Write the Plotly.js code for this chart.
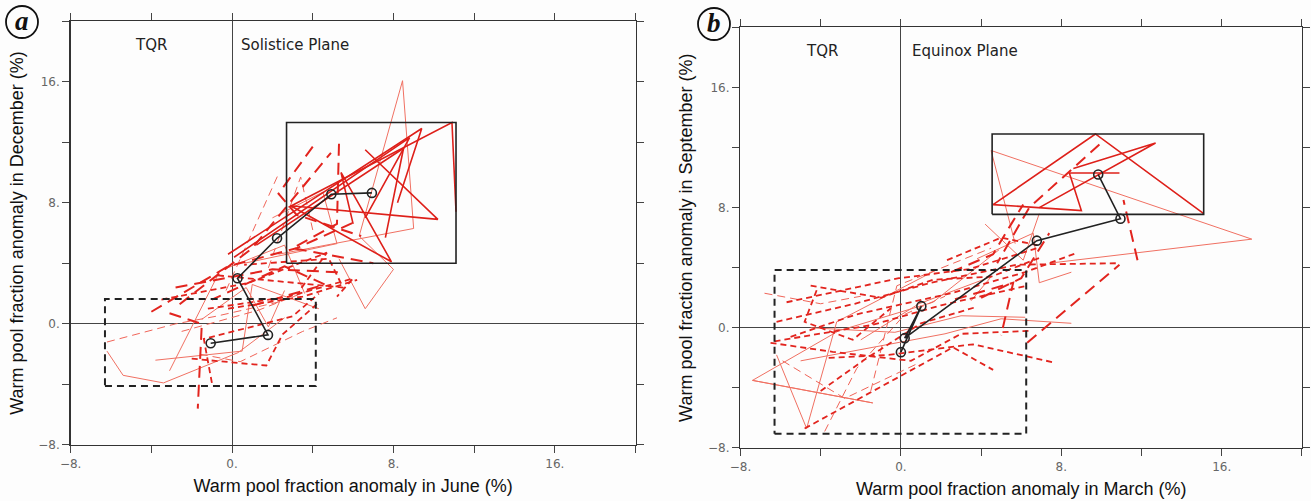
<!DOCTYPE html>
<html><head><meta charset="utf-8">
<script src="https://cdn.plot.ly/plotly-3.0.1.min.js"></script>
<style>html,body{margin:0;padding:0;background:#fdfdfd;}#chart{width:1311px;height:501px;}</style>
</head><body><div id="chart"></div>
<script>
// ---------- Data ----------
const tickVals = [-8, -4, 0, 4, 8, 12, 16, 20];
const tickText = ["\u22128.", "", "0.", "", "8.", "", "16.", ""];

// Panel a: ensemble-mean trajectory (June, December)
const aMeanX = [-1.06, 1.78, 0.27, 2.23, 4.92, 6.93];
const aMeanY = [-1.28, -0.73, 3.01, 5.65, 8.56, 8.65];
// Panel b: ensemble-mean trajectory (March, September)
const bMeanX = [0.0, 1.02, 0.19, 6.78, 10.95, 9.84];
const bMeanY = [-1.62, 1.44, -0.69, 5.80, 7.26, 10.20];

// boxes [x0, x1, y0, y1]
const aBoxSolid = [2.7, 11.1, 4.0, 13.3];
const aBoxDash = [-6.3, 4.15, -4.1, 1.65];
const bBoxSolid = [4.55, 15.1, 7.55, 12.9];
const bBoxDash = [-6.3, 6.25, -7.05, 3.85];

// Panel a members: strong solid red
const aS1 = [[2.8,7.7],[10.9,13.3],[11.1,7.4]];
const aS2 = [[0.1,4.4],[8.8,12.3],[6.6,7.0]];
const aS3 = [[6.6,11.5],[10.2,6.9],[2.9,7.8],[7.9,4.1],[5.4,10.0],[6.0,6.6]];
const aS4 = [[1.2,5.2],[8.5,11.6],[7.6,5.7]];
const aS5 = [[-0.2,4.6],[4.4,8.6],[9.4,12.9],[8.2,8.0]];
// thin solid salmon
const aT1 = [[2.3,4.6],[9.0,6.3],[8.45,16.06],[6.3,5.8],[8.0,3.6],[6.6,1.0],[5.3,4.3]];
const aT2 = [[-3.1,-3.1],[-0.6,3.5],[2.6,5.2],[3.6,2.0]];
const aT3 = [[-6.2,-1.8],[-5.4,-3.4],[-3.4,-3.9],[0.3,-1.9],[2.6,0.4]];
const aT4 = [[-3.8,-2.4],[0.5,-1.8],[1.0,2.6],[4.3,1.0]];
const aT5 = [[0.6,4.0],[5.2,5.3],[4.5,8.7],[2.0,7.0]];
const aT6 = [[-1.5,0.3],[0.7,2.4],[1.8,-0.2],[2.6,2.2]];
// long dash red
const aL1 = [[-2.6,1.3],[1.0,5.0],[4.9,11.3]];
const aL2 = [[5.3,11.9],[5.2,6.6],[3.0,5.0],[7.0,4.0]];
const aL3 = [[-3.1,0.7],[-1.5,0.0],[-1.7,-5.6]];
const aL4 = [[-2.8,2.4],[2.0,3.6],[5.5,3.4]];
const aL5 = [[1.0,1.2],[4.6,2.6],[2.6,3.8],[-1.0,1.6]];
const aL6 = [[-4.0,0.8],[-0.2,3.8],[3.2,5.0],[6.2,6.8]];
const aL7 = [[4.0,11.7],[2.3,8.6],[3.2,7.2],[6.4,5.8]];
// short dash red
const aD1 = [[-2.0,-2.3],[1.7,-2.75],[2.5,-0.7],[4.2,1.3]];
const aD2 = [[-0.7,3.2],[5.5,2.4],[4.8,4.3],[0.6,3.9]];
const aD3 = [[-1.0,-3.9],[-1.4,-1.0],[3.0,0.5],[4.3,2.0]];
const aD4 = [[-0.2,1.0],[3.5,1.8],[6.2,2.9]];
const aD5 = [[-3.5,1.6],[0.8,2.7],[4.7,4.7],[3.4,2.3]];
const aD6 = [[-1.2,1.0],[2.8,1.8],[6.0,3.0],[5.2,1.8]];
// thin dashed salmon
const aE1 = [[-6.2,-1.2],[-2.8,0.0],[-0.8,0.5],[2.5,1.5]];
const aE2 = [[-0.3,2.2],[2.3,9.9]];
const aE3 = [[-1.6,-2.0],[0.4,-2.5],[3.5,-0.5],[5.2,0.4]];
const aE4 = [[1.8,3.7],[3.4,9.7],[4.0,6.2]];
const aE5 = [[-2.5,-0.5],[1.3,0.9],[4.2,2.4]];

// Panel b members
const bS1 = [[4.6,8.2],[9.7,12.9],[15.1,7.6]];
const bS2 = [[4.6,8.2],[9.0,7.8],[8.4,10.3],[10.9,10.3]];
const bS3 = [[6.9,8.0],[12.7,12.3],[8.6,10.6]];
const bT1 = [[5.7,5.6],[4.5,11.8],[17.5,5.9],[7.4,4.3]];
const bT2 = [[-7.4,-3.5],[-1.4,-5.0]];
const bT3 = [[-1.4,-5.0],[-7.4,-3.5],[-3.1,-0.2],[1.6,1.7],[4.9,5.2]];
const bT4 = [[-6.2,-1.8],[-4.7,-6.7],[-3.2,0.4],[1.7,3.8]];
const bT5 = [[4.2,6.9],[6.1,4.5],[6.9,7.6]];
const bT6 = [[-5.0,-2.2],[2.2,-0.4],[5.0,0.6],[8.5,0.3]];
const bT7 = [[-4.5,0.0],[-0.3,-0.3],[3.0,0.8],[6.2,0.7]];
const bT8 = [[-2.0,-0.8],[0.9,1.6],[4.5,3.4],[3.5,1.8]];
const bT9 = [[3.8,4.6],[6.6,6.3],[6.9,3.0],[8.5,3.7]];
const bL1 = [[6.3,-1.0],[10.9,4.2]];
const bL2 = [[11.8,4.5],[11.1,8.5]];
const bL3 = [[9.9,12.2],[6.4,8.0],[4.8,4.3]];
const bL4 = [[4.0,2.0],[6.0,3.3],[7.4,6.3]];
const bL5 = [[2.7,1.9],[5.6,3.0],[5.0,-0.5]];
const bL6 = [[2.5,3.7],[4.6,4.9],[5.5,6.9],[6.1,8.2]];
const bD1 = [[-5.7,1.7],[-0.1,3.3],[3.4,3.9],[6.8,5.3]];
const bD2 = [[-6.3,-0.9],[-1.4,0.2],[2.0,1.5],[6.3,2.8]];
const bD3 = [[-4.8,-6.7],[-0.1,-3.3],[2.6,-1.3],[4.6,-2.8]];
const bD4 = [[-6.2,0.4],[-2.3,1.6],[1.5,3.0],[5.8,4.2],[10.9,4.3]];
const bD5 = [[-3.6,-2.0],[-0.6,-1.8],[3.6,-1.1],[7.6,-2.3]];
const bD6 = [[-4.0,-4.2],[-1.9,-2.2],[1.0,0.3],[3.8,1.4]];
const bD7 = [[2.3,4.5],[5.0,6.0],[6.8,5.5]];
const bD8 = [[-4.5,2.8],[-1.0,2.0],[1.6,3.2],[4.5,3.4],[7.0,4.7]];
const bD9 = [[-6.5,-1.0],[-3.4,-1.6],[0.5,-2.2],[3.0,-0.4],[6.5,-0.2]];
const bD10 = [[-5.5,-0.6],[-2.2,0.9],[2.5,2.3],[6.2,3.7],[8.8,5.0]];
const bD11 = [[-4.2,2.5],[-4.8,0.4],[-2.4,-0.8],[-0.5,1.3]];
const bE1 = [[-6.8,2.3],[-4.0,1.6],[-2.0,2.1]];
const bE2 = [[-5.9,-2.2],[-2.8,-4.7],[0.8,-2.4]];
const bE3 = [[-1.5,-4.2],[-0.2,2.8],[4.5,5.3]];
const bE4 = [[-3.8,-6.9],[-2.2,-2.7],[0.2,0.9],[2.2,2.1]];

// ---------- Styles ----------
const STY = {
  S: {color: 'rgb(222,32,26)', width: 1.6, dash: 'solid'},
  T: {color: 'rgb(240,112,98)', width: 1.0, dash: 'solid'},
  L: {color: 'rgb(226,36,30)', width: 2.0, dash: '12px,7px'},
  D: {color: 'rgb(226,36,30)', width: 1.8, dash: '6px,4px'},
  E: {color: 'rgb(240,100,88)', width: 1.0, dash: '8px,5px'}
};

function member(pts, sty, ax) {
  return {type: 'scatter', mode: 'lines', x: pts.map(p => p[0]), y: pts.map(p => p[1]),
    xaxis: ax[0], yaxis: ax[1], line: Object.assign({}, STY[sty]), hoverinfo: 'skip', showlegend: false};
}
function box(b, dashed, ax) {
  return {type: 'scatter', mode: 'lines', x: [b[0], b[1], b[1], b[0], b[0]], y: [b[2], b[2], b[3], b[3], b[2]],
    xaxis: ax[0], yaxis: ax[1], line: {color: '#222', width: dashed ? 2 : 1.6, dash: dashed ? '7px,5px' : 'solid'},
    hoverinfo: 'skip', showlegend: false};
}
function mean(xs, ys, ax) {
  return {type: 'scatter', mode: 'lines+markers', x: xs, y: ys, xaxis: ax[0], yaxis: ax[1],
    line: {color: '#222', width: 1.6}, marker: {symbol: 'circle-open', size: 9, color: '#222', line: {width: 1.6, color: '#222'}},
    hoverinfo: 'skip', showlegend: false};
}

const A = ['x', 'y'], B = ['x2', 'y2'];
const aMembers = [[aT1,'T'],[aT2,'T'],[aT3,'T'],[aT4,'T'],[aT5,'T'],[aT6,'T'],[aE1,'E'],[aE2,'E'],[aE3,'E'],[aE4,'E'],[aE5,'E'],
  [aD1,'D'],[aD2,'D'],[aD3,'D'],[aD4,'D'],[aD5,'D'],[aD6,'D'],[aL1,'L'],[aL2,'L'],[aL3,'L'],[aL4,'L'],[aL5,'L'],[aL6,'L'],[aL7,'L'],
  [aS1,'S'],[aS2,'S'],[aS3,'S'],[aS4,'S'],[aS5,'S']];
const bMembers = [[bT1,'T'],[bT2,'T'],[bT3,'T'],[bT4,'T'],[bT5,'T'],[bT6,'T'],[bT7,'T'],[bT8,'T'],[bT9,'T'],
  [bE1,'E'],[bE2,'E'],[bE3,'E'],[bE4,'E'],
  [bD1,'D'],[bD2,'D'],[bD3,'D'],[bD4,'D'],[bD5,'D'],[bD6,'D'],[bD7,'D'],[bD8,'D'],[bD9,'D'],[bD10,'D'],[bD11,'D'],
  [bL1,'L'],[bL2,'L'],[bL3,'L'],[bL4,'L'],[bL5,'L'],[bL6,'L'],
  [bS1,'S'],[bS2,'S'],[bS3,'S']];

const traces = [];
aMembers.forEach(m => traces.push(member(m[0], m[1], A)));
bMembers.forEach(m => traces.push(member(m[0], m[1], B)));
traces.push(box(aBoxSolid, false, A), box(aBoxDash, true, A), box(bBoxSolid, false, B), box(bBoxDash, true, B));
traces.push(mean(aMeanX, aMeanY, A), mean(bMeanX, bMeanY, B));

function axis(extra) {
  return Object.assign({
    range: [-8, 20], tickmode: 'array', tickvals: tickVals, ticktext: tickText,
    ticks: 'outside', ticklen: 7, tickwidth: 1, tickcolor: '#444',
    showline: true, linecolor: '#333', linewidth: 1.5, mirror: 'ticks',
    showgrid: false, zeroline: true, zerolinecolor: '#444', zerolinewidth: 1,
    tickfont: {family: 'DejaVu Sans', size: 12, color: '#666'}, fixedrange: true
  }, extra);
}
const titleFont = {family: 'Liberation Sans, Arial', size: 18, color: '#111'};
const lblFont = {family: 'DejaVu Sans', size: 15, color: '#222'};

const layout = {
  width: 1311, height: 501, margin: {l: 0, r: 0, t: 0, b: 0},
  paper_bgcolor: '#fdfdfd', plot_bgcolor: '#fdfdfd', showlegend: false,
  xaxis: axis({domain: [0.0539, 0.4848], anchor: 'y', title: {text: 'Warm pool fraction anomaly in June (%)', font: titleFont, standoff: 9}}),
  yaxis: axis({domain: [0.1118, 0.958], anchor: 'x', title: {text: 'Warm pool fraction anomaly in December (%)', font: titleFont, standoff: 10}}),
  xaxis2: axis({domain: [0.5648, 0.9931], anchor: 'y2', title: {text: 'Warm pool fraction anomaly in March (%)', font: titleFont, standoff: 9}}),
  yaxis2: axis({domain: [0.1058, 0.9455], anchor: 'x2', title: {text: 'Warm pool fraction anomaly in September (%)', font: titleFont, standoff: 10}}),
  annotations: [
    {xref: 'x', yref: 'y', x: -4, y: 18.4, text: 'TQR', showarrow: false, font: lblFont, xanchor: 'center'},
    {xref: 'x', yref: 'y', x: 0.35, y: 18.4, text: 'Solistice Plane', showarrow: false, font: lblFont, xanchor: 'left'},
    {xref: 'x2', yref: 'y2', x: -3.95, y: 18.4, text: 'TQR', showarrow: false, font: lblFont, xanchor: 'center'},
    {xref: 'x2', yref: 'y2', x: 0.45, y: 18.4, text: 'Equinox Plane', showarrow: false, font: lblFont, xanchor: 'left'},
    {xref: 'paper', yref: 'paper', x: 22/1311, y: 1 - 21/501, text: '<b><i>a</i></b>', showarrow: false,
     font: {family: 'Liberation Serif, DejaVu Serif', size: 27, color: '#111'}, xanchor: 'center', yanchor: 'middle'},
    {xref: 'paper', yref: 'paper', x: 714/1311, y: 1 - 23/501, text: '<b><i>b</i></b>', showarrow: false,
     font: {family: 'Liberation Serif, DejaVu Serif', size: 27, color: '#111'}, xanchor: 'center', yanchor: 'middle'}
  ],
  shapes: [
    {type: 'circle', xref: 'paper', yref: 'paper', x0: 6/1311, x1: 38/1311, y0: 1 - 38/501, y1: 1 - 6/501, line: {color: '#111', width: 1.8}},
    {type: 'circle', xref: 'paper', yref: 'paper', x0: 698/1311, x1: 730/1311, y0: 1 - 40/501, y1: 1 - 8/501, line: {color: '#111', width: 1.8}}
  ]
};

Plotly.newPlot('chart', traces, layout, {staticPlot: true, displayModeBar: false});
</script>
</body></html>
